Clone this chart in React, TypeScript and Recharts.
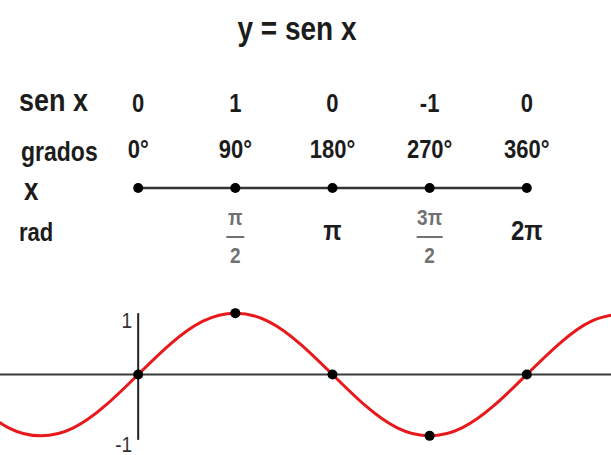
import {
  ComposedChart,
  LabelList,
  Line,
  LineChart,
  ReferenceDot,
  ReferenceLine,
  XAxis,
  YAxis,
} from "recharts";

const FONT = '"Liberation Sans", Arial, sans-serif';
const INK = "#1c1c1c";
const GRAY = "#717171";
const CURVE = "#e8191c";
// the lettering is drawn a little taller than the font's own proportions
const STRETCH = 1.18;

// one full turn, in degrees
const DEGREES = [0, 90, 180, 270, 360];
const SIN_AT_DEGREES = [0, 1, 0, -1, 0];
const DEGREE_LABELS = ["0°", "90°", "180°", "270°", "360°"];
// [numerator, denominator]; a single entry is printed on one line
const RAD_LABELS: string[][] = [[], ["π", "2"], ["π"], ["3π", "2"], ["2π"]];

// sampled sine wave, a bit wider than the visible window
const CURVE_DEGREES = [
  -150, -120, -90, -60, -30, 0, 30, 60, 90, 120, 150, 180, 210, 240, 270, 300,
  330, 360, 390, 420, 450,
];
const CURVE_VALUES = [
  -0.5, -0.87, -1, -0.87, -0.5, 0, 0.5, 0.87, 1, 0.87, 0.5, 0, -0.5, -0.87, -1,
  -0.87, -0.5, 0, 0.5, 0.87, 1,
];

const X_DOMAIN: [number, number] = [-128, 438];

const numberLine = DEGREES.map((deg) => ({ deg, axis: 0 }));
const keyPoints = DEGREES.map((deg, i) => ({ deg, value: SIN_AT_DEGREES[i] }));
const curve = CURVE_DEGREES.map((deg, i) => ({ deg, value: CURVE_VALUES[i] }));

// svg text stretched vertically about its baseline
function Tall({ x, y, children, ...rest }: any) {
  return (
    <text transform={`translate(${x} ${y}) scale(1 ${STRETCH})`} {...rest}>
      {children}
    </text>
  );
}

// the column of values printed above and below each point of the number line
function TableColumn(props: any) {
  const { x, y, index } = props;
  const rad = RAD_LABELS[index];
  const half = rad[0] && rad[0].length > 1 ? 13 : 9;
  return (
    <g fontFamily={FONT} fontWeight="bold" textAnchor="middle">
      <Tall x={x} y={y - 76} fontSize={22} fill={INK}>
        {SIN_AT_DEGREES[index]}
      </Tall>
      <Tall x={x} y={y - 30} fontSize={22} fill={INK}>
        {DEGREE_LABELS[index]}
      </Tall>
      {rad.length === 1 && (
        <Tall x={x} y={y + 52} fontSize={24} fill={INK}>
          {rad[0]}
        </Tall>
      )}
      {rad.length === 2 && (
        <g fill={GRAY}>
          <Tall x={x} y={y + 37} fontSize={19}>
            {rad[0]}
          </Tall>
          <line x1={x - half} x2={x + half} y1={y + 49} y2={y + 49} stroke={GRAY} strokeWidth={2} />
          <Tall x={x} y={y + 75} fontSize={19}>
            {rad[1]}
          </Tall>
        </g>
      )}
    </g>
  );
}

function AxisNumber({ cx, cy, text, dy }: any) {
  return (
    <Tall x={cx - 6} y={cy + dy} textAnchor="end" fontFamily={FONT} fontSize={19} fill="#333">
      {text}
    </Tall>
  );
}

const rowLabel = (top: number, left: number, size: number) => ({
  position: "absolute" as const,
  top,
  left,
  fontSize: size,
  lineHeight: `${size}px`,
  fontWeight: "bold" as const,
  whiteSpace: "nowrap" as const,
  transform: `scaleY(${STRETCH})`,
  transformOrigin: "50% 60%",
});

export default function App() {
  return (
    <div
      style={{
        position: "absolute",
        left: 0,
        top: 0,
        width: 611,
        height: 455,
        background: "#fff",
        fontFamily: FONT,
        color: INK,
        overflow: "hidden",
      }}
    >
      <div style={{ ...rowLabel(16, 0, 28), width: 594, textAlign: "center" }}>y = sen x</div>
      <div style={rowLabel(88, 19, 27)}>sen x</div>
      <div style={rowLabel(141, 21, 23)}>grados</div>
      <div style={rowLabel(177, 24, 26)}>x</div>
      <div style={rowLabel(222, 19, 22)}>rad</div>

      <div style={{ position: "absolute", left: 0, top: 0 }}>
        <LineChart width={611} height={290} data={numberLine} margin={{ top: 86, right: 0, bottom: 0, left: 0 }}>
          <XAxis dataKey="deg" type="number" domain={X_DOMAIN} hide />
          <YAxis domain={[-1, 1]} hide />
          <Line
            dataKey="axis"
            stroke="#333"
            strokeWidth={2.5}
            dot={{ r: 5, fill: "#000", stroke: "none" }}
            isAnimationActive={false}
          >
            <LabelList dataKey="deg" content={<TableColumn />} />
          </Line>
        </LineChart>
      </div>

      <div style={{ position: "absolute", left: 0, top: 290 }}>
        <ComposedChart width={611} height={165} margin={{ top: 17, right: 0, bottom: 13, left: 0 }}>
          <XAxis dataKey="deg" type="number" domain={X_DOMAIN} allowDataOverflow hide />
          <YAxis dataKey="value" domain={[-1.1, 1.1]} hide />
          <ReferenceLine y={0} stroke="#3a3a3a" strokeWidth={2} />
          <ReferenceLine
            segment={[
              { x: 0, y: -1.065 },
              { x: 0, y: 1 },
            ]}
            stroke="#222"
            strokeWidth={2}
          />
          <ReferenceDot x={0} y={1} shape={(p: any) => <AxisNumber {...p} text="1" dy={15} />} />
          <ReferenceDot x={0} y={-1} shape={(p: any) => <AxisNumber {...p} text="-1" dy={16} />} />
          <Line
            data={curve}
            dataKey="value"
            type="natural"
            stroke={CURVE}
            strokeWidth={3}
            dot={false}
            isAnimationActive={false}
          />
          <Line
            data={keyPoints}
            dataKey="value"
            stroke="none"
            dot={{ r: 5, fill: "#000", stroke: "none" }}
            isAnimationActive={false}
          />
        </ComposedChart>
      </div>
    </div>
  );
}
